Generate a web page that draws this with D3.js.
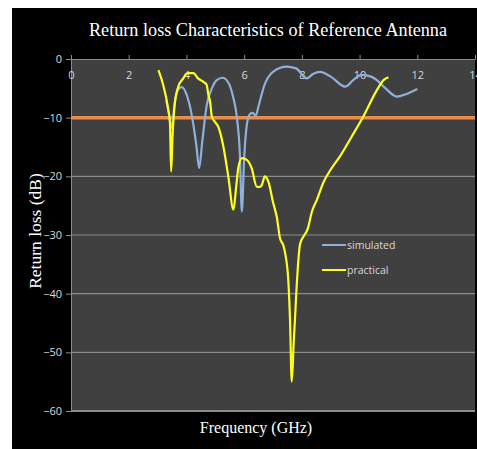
<!DOCTYPE html>
<html><head><meta charset="utf-8">
<script src="https://cdn.jsdelivr.net/npm/d3@7"></script>
<style>body{margin:0;background:#fff;}svg{display:block;}</style>
</head><body>
<script>
const xTicks = [0, 2, 4, 6, 8, 10, 12, 14];
const yTicks = [0, -10, -20, -30, -40, -50, -60];
const seriesNames = ["simulated", "practical"];
const simulated = [[3.3,-7],[3.4,-9.5],[3.49,-11.8],[3.58,-8],[3.7,-5.3],[3.84,-4.8],[4.0,-6],[4.2,-10],[4.35,-15],[4.44,-18.6],[4.55,-14],[4.7,-8],[4.9,-4.8],[5.05,-3.6],[5.25,-3.2],[5.45,-4],[5.62,-6.5],[5.75,-10],[5.85,-16],[5.92,-26],[6.0,-17],[6.1,-11],[6.2,-9.4],[6.3,-9.2],[6.4,-9.7],[6.5,-8],[6.7,-4.5],[7.0,-2.2],[7.47,-1.3],[7.8,-1.6],[8.17,-3.3],[8.4,-2.5],[8.63,-2.2],[9.0,-3],[9.5,-4.7],[9.8,-3.5],[10.07,-2.7],[10.4,-3],[10.6,-3.6],[10.9,-5],[11.29,-6.4],[11.6,-6],[12.0,-5.1]];
const practical = [[3.03,-1.9],[3.2,-4.5],[3.35,-8],[3.43,-11],[3.47,-19.2],[3.52,-13],[3.6,-7.5],[3.72,-4.7],[3.89,-3.3],[4.0,-2.5],[4.1,-2.4],[4.24,-2.4],[4.4,-3.3],[4.59,-3.9],[4.7,-4.4],[4.76,-6.1],[4.82,-7.2],[4.88,-9.8],[5.0,-10.8],[5.1,-11.5],[5.28,-14.9],[5.45,-20],[5.63,-25.7],[5.72,-22],[5.8,-18.5],[5.92,-16.9],[6.09,-17.2],[6.26,-18.6],[6.44,-21.8],[6.55,-21.8],[6.61,-21.5],[6.72,-20],[6.84,-20.9],[7.01,-24.6],[7.13,-26.9],[7.24,-30.5],[7.36,-31.8],[7.42,-33.1],[7.53,-37.7],[7.59,-44.5],[7.65,-55],[7.72,-48],[7.76,-44.5],[7.82,-38.8],[7.94,-31.5],[8.05,-30.3],[8.2,-29],[8.35,-26],[8.52,-24],[8.75,-21],[8.98,-19],[9.32,-16.6],[9.73,-13.2],[10.13,-9.8],[10.6,-5.3],[10.83,-3.6],[11.0,-3.1]];
const threshold = [[0,-10],[14,-10]];

const W = 477, H = 449;
const svg = d3.select("body").append("svg").attr("width", W).attr("height", H);
svg.append("rect").attr("x",12).attr("y",8).attr("width",W-12).attr("height",H-8).attr("fill","#000");

const L = 71, R = 475, T = 59, B = 411;
const x = d3.scaleLinear().domain([0,14]).range([L,R]);
const y = d3.scaleLinear().domain([-60,0]).range([B,T]);

svg.append("rect").attr("x",L).attr("y",T).attr("width",R-L).attr("height",B-T).attr("fill","#404040");

// gridlines
svg.append("g").selectAll("line").data(yTicks.filter(d=>d<0)).join("line")
  .attr("x1",L).attr("x2",R).attr("y1",d=>y(d)).attr("y2",d=>y(d))
  .attr("stroke","#8c8c8c").attr("stroke-width",d=>d===-60?2:1.2);

// y axis
const yAxis = svg.append("g").attr("transform",`translate(${L},0)`)
  .call(d3.axisLeft(y).tickValues(yTicks).tickSize(5).tickPadding(4).tickFormat(d3.format("d")));
yAxis.select(".domain").attr("stroke","#8c8c8c");
yAxis.selectAll(".tick line").attr("stroke","#8c8c8c");
yAxis.selectAll("text").attr("fill","#d9d9d9").style("font-family","'Open Sans', sans-serif").style("font-size","11px");

// x axis at top (y=0)
const xAxis = svg.append("g").attr("transform",`translate(0,${y(0)})`)
  .call(d3.axisTop(x).tickValues(xTicks).tickSize(4).tickFormat(d3.format("d")));
xAxis.select(".domain").attr("stroke","#8c8c8c");
xAxis.selectAll(".tick line").attr("stroke","#8c8c8c");
xAxis.selectAll("text").attr("y",20).attr("dy",null).attr("fill","#d9d9d9")
  .style("font-family","'Open Sans', sans-serif").style("font-size","11px");

const line = d3.line().x(d=>x(d[0])).y(d=>y(d[1])).curve(d3.curveMonotoneX);

svg.append("path").datum(threshold).attr("d",d3.line().x(d=>x(d[0])).y(d=>y(d[1])))
  .attr("stroke","#ea8c4c").attr("stroke-width",3.5).attr("fill","none");
svg.append("path").datum(simulated).attr("d",line).attr("stroke","#8fb0d8").attr("stroke-width",2.2).attr("fill","none");
svg.append("path").datum(practical).attr("d",line).attr("stroke","#ffff1f").attr("stroke-width",2.2).attr("fill","none");

// legend
const legColors = ["#8fb0d8","#ffff1f"];
const leg = svg.append("g").selectAll("g").data(seriesNames).join("g")
  .attr("transform",(d,i)=>`translate(322,${245+i*25})`);
leg.append("line").attr("x1",0).attr("x2",24).attr("y1",0).attr("y2",0)
  .attr("stroke",(d,i)=>legColors[i]).attr("stroke-width",2);
leg.append("text").attr("x",25).attr("y",4).text(d=>d).attr("fill","#d9d9d9")
  .style("font-family","'Open Sans', sans-serif").style("font-size","10.5px");

// titles
svg.append("text").attr("x",268).attr("y",36).attr("text-anchor","middle").attr("fill","#fff")
  .style("font-family","'Liberation Serif', serif").style("font-size","18.2px")
  .text("Return loss Characteristics of Reference Antenna");
svg.append("text").attr("x",256).attr("y",433).attr("text-anchor","middle").attr("fill","#fff")
  .style("font-family","'Liberation Serif', serif").style("font-size","16px")
  .text("Frequency (GHz)");
svg.append("text").attr("transform","translate(41,231) rotate(-90)").attr("text-anchor","middle").attr("fill","#fff")
  .style("font-family","'Liberation Serif', serif").style("font-size","17.5px")
  .text("Return loss (dB)");
</script>
</body></html>
